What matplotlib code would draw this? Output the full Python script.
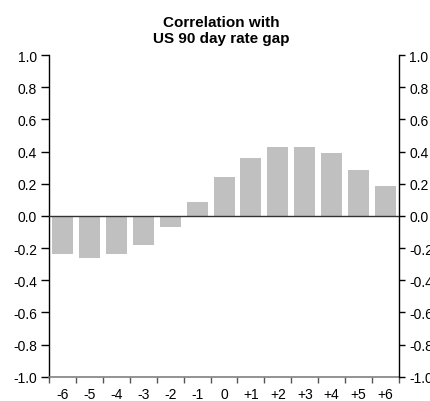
import matplotlib
matplotlib.use("Agg")
import matplotlib.pyplot as plt
import numpy as np

plt.rcParams['font.family'] = ['Liberation Sans', 'DejaVu Sans']

categories = ["-6", "-5", "-4", "-3", "-2", "-1", "0", "+1", "+2", "+3", "+4", "+5", "+6"]
values = [-0.24, -0.26, -0.24, -0.18, -0.07, 0.085, 0.24, 0.36, 0.43, 0.43, 0.39, 0.285, 0.187]
yticks = [-1.0, -0.8, -0.6, -0.4, -0.2, 0.0, 0.2, 0.4, 0.6, 0.8, 1.0]
title = "Correlation with\nUS 90 day rate gap"

fig = plt.figure(figsize=(4.30, 4.02), dpi=100)
ax = fig.add_axes([49/430, 24.3/402, 350/430, 321.7/402])
x = np.arange(len(categories))
ax.bar(x, values, width=0.78, color="#c0c0c0", edgecolor="none", zorder=2)
ax.axhline(0, color="#333333", linewidth=1.0, zorder=3)
ax.set_xlim(-0.5, len(categories) - 0.5)
ax.set_ylim(-1.0, 1.0)
ax.set_yticks(yticks)
ax.set_yticklabels([f"{v:.1f}" for v in yticks])
ax.set_xticks(x)
ax.set_xticklabels(categories)
ax.set_xticks(np.arange(-0.5, len(categories), 1.0), minor=True)
ax.tick_params(axis='x', which='major', length=0, pad=7.5, labelsize=10)
ax.tick_params(axis='x', which='minor', length=4, width=1, color="#555555", direction='out')
ax.tick_params(axis='y', length=6, width=1, direction='out', pad=2.5, labelsize=10, colors='black')
ax.spines['top'].set_visible(False)
ax.spines['right'].set_visible(False)
ax.spines['bottom'].set_color("#808080")
ax.spines['bottom'].set_linewidth(1.2)
ax.spines['left'].set_linewidth(1.0)

ax2 = ax.twinx()
ax2.set_ylim(-1.0, 1.0)
ax2.set_yticks(yticks)
ax2.set_yticklabels([f"{v:.1f}" for v in yticks])
ax2.tick_params(axis='y', length=4.5, width=1, direction='out', pad=3, labelsize=10)
for s in ['top', 'left', 'bottom']:
    ax2.spines[s].set_visible(False)
ax2.spines['right'].set_linewidth(1.0)

fig.text(221.7 / 430, 1 - 43/402, title, ha='center', va='baseline',
         fontsize=11, fontweight='bold', linespacing=1.15)

fig.savefig("out.png", dpi=100)
